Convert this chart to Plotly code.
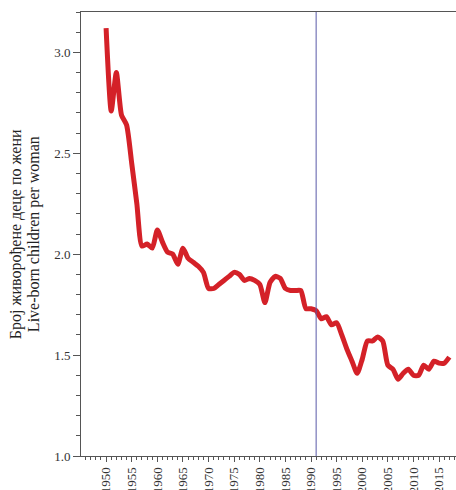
import plotly.graph_objects as go

# total fertility rate
years = list(range(1950, 2018))
tfr = [3.12, 2.71, 2.90, 2.69, 2.64, 2.45, 2.25, 2.04, 2.05, 2.03,
       2.12, 2.06, 2.01, 2.00, 1.95, 2.03, 1.98, 1.96, 1.94, 1.91,
       1.83, 1.83, 1.85, 1.87, 1.89, 1.91, 1.90, 1.87, 1.88, 1.87,
       1.85, 1.76, 1.86, 1.89, 1.88, 1.83, 1.82, 1.82, 1.82, 1.73,
       1.73, 1.72, 1.68, 1.69, 1.65, 1.66, 1.60, 1.53, 1.47, 1.41,
       1.48, 1.57, 1.57, 1.59, 1.57, 1.45, 1.43, 1.38, 1.41, 1.43,
       1.40, 1.40, 1.45, 1.43, 1.47, 1.46, 1.46, 1.49]
marker_year = 1991
ytitle_sr = "Број живорођене деце по жени"
ytitle_en = "Live-born children per woman"

serif = "Liberation Serif"

fig = go.Figure()
fig.add_trace(go.Scatter(
    x=years, y=tfr, mode="lines",
    line=dict(color="#d42128", width=5, shape="spline", smoothing=0.6),
    hoverinfo="x+y", showlegend=False,
))

fig.add_shape(type="line", xref="x", yref="paper",
              x0=marker_year, x1=marker_year, y0=0, y1=1,
              line=dict(color="#5a5aa8", width=1))

# two-line y title, placed by hand like the original
for i, t in enumerate([ytitle_sr, ytitle_en]):
    fig.add_annotation(text=t, xref="paper", yref="paper",
                       x=-0.173 + i * 0.048, y=0.5, textangle=-90,
                       showarrow=False, xanchor="center", yanchor="middle",
                       font=dict(family=serif, size=16, color="#222"))

fig.update_layout(
    width=456, height=490,
    margin=dict(l=81, r=0, t=12, b=34),
    plot_bgcolor="white", paper_bgcolor="white",
    font=dict(family=serif, size=13, color="#444"),
    xaxis=dict(
        range=[1945.1, 2018.3], tickmode="linear", tick0=1950, dtick=5,
        tickangle=-90, ticks="outside", ticklen=5, tickcolor="#555",
        tickfont=dict(family=serif, size=13, color="#333"),
        showline=True, linecolor="#555", linewidth=1, mirror=True,
        showgrid=False, zeroline=False, automargin=False,
        minor=dict(dtick=1, tick0=1950, ticks="outside", ticklen=3,
                   tickcolor="#555", showgrid=False),
    ),
    yaxis=dict(
        range=[1.0, 3.2], tickmode="linear", tick0=1.0, dtick=0.5,
        tickformat=".1f", ticks="outside", ticklen=7, tickcolor="#555",
        tickfont=dict(family=serif, size=13, color="#333"),
        showline=True, linecolor="#555", linewidth=1,
        showgrid=False, zeroline=False, automargin=False,
        minor=dict(dtick=0.1, ticks="outside", ticklen=4,
                   tickcolor="#555", showgrid=False),
    ),
)

# drop the browser's default page margin so the figure sits at 0,0
fig.write_html("out.html", config={"displayModeBar": False},
               post_script="document.body.style.margin='0';")
